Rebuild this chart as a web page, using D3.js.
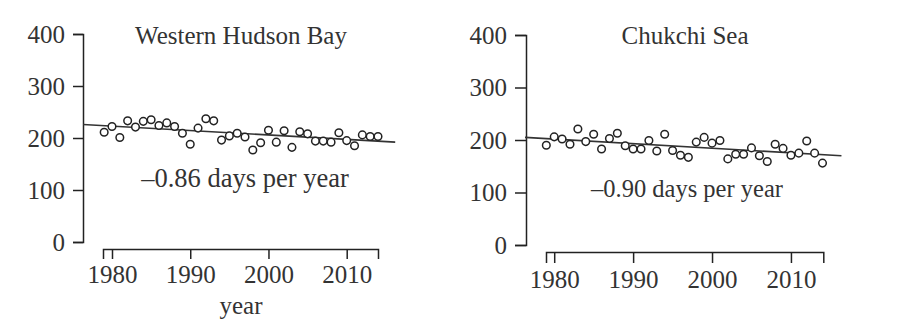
<!DOCTYPE html>
<html>
<head>
<meta charset="utf-8">
<script src="https://cdnjs.cloudflare.com/ajax/libs/d3/7.8.5/d3.min.js"></script>
<style>
  body { margin: 0; background: #fff; }
  svg text { font-family: "Liberation Serif", "DejaVu Serif", serif; fill: #333; }
  .axis path, .axis line { stroke: #222; stroke-width: 1.5; }
  .axis text { font-size: 25px; }
</style>
</head>
<body>
<div id="chart"></div>
<script>
// data
var years = [1979, 1980, 1981, 1982, 1983, 1984, 1985, 1986, 1987, 1988,
  1989, 1990, 1991, 1992, 1993, 1994, 1995, 1996, 1997, 1998,
  1999, 2000, 2001, 2002, 2003, 2004, 2005, 2006, 2007, 2008,
  2009, 2010, 2011, 2012, 2013, 2014];

var hudsonDays = [211, 222, 201, 233, 221, 232, 235, 224, 229, 222,
  209, 188, 219, 237, 233, 196, 204, 209, 202, 177,
  191, 215, 192, 214, 182, 212, 208, 194, 194, 192,
  210, 195, 185, 206, 203, 203];

var chukchiDays = [190, 206, 202, 192, 221, 197, 211, 183, 203, 213,
  189, 183, 183, 199, 179, 211, 180, 171, 167, 196,
  205, 194, 199, 164, 173, 173, 185, 170, 159, 192,
  184, 171, 175, 198, 175, 156];

// trend line ends (year, days)
var trendYearsHudson = [1976.3, 2016.2];
var trendHudson = [226, 192];
var trendYearsChukchi = [1976.3, 2016.4];
var trendChukchi = [205, 170];

var yTicks = [0, 100, 200, 300, 400];
var xTicks = [1980, 1990, 2000, 2010];

var svg = d3.select("#chart")
  .append("svg")
  .attr("width", 900)
  .attr("height", 326);

function drawPanel(p) {
  var xScale = d3.scaleLinear().domain(p.xDomain).range(p.xRange);
  var yScale = d3.scaleLinear().domain([0, 400]).range(p.yRange);

  var leftAxis = d3.axisLeft(yScale)
    .tickValues(yTicks)
    .tickSizeOuter(0)
    .tickSize(p.yTickSize)
    .tickPadding(8);

  var bottomAxis = d3.axisBottom(xScale)
    .tickValues(xTicks)
    .tickFormat(d3.format("d"))
    .tickSizeOuter(0)
    .tickSize(p.xTickSize)
    .tickPadding(p.xPad);

  svg.append("g")
    .attr("class", "axis")
    .attr("transform", `translate(${p.yAxisX}, 0)`)
    .call(leftAxis);

  svg.append("g")
    .attr("class", "axis")
    .attr("transform", `translate(0, ${p.xAxisY})`)
    .call(bottomAxis);

  svg.selectAll(".axis .domain").attr("fill", "none");

  // regression line
  var line = d3.line()
    .x(d => xScale(d[0]))
    .y(d => yScale(d[1]));
  svg.append("path")
    .datum(d3.zip(p.trendYears, p.trend))
    .attr("d", line)
    .attr("fill", "none")
    .attr("stroke", "#333")
    .attr("stroke-width", 1.6);

  svg.append("g")
    .selectAll("circle")
    .data(d3.zip(years, p.days))
    .join("circle")
    .attr("cx", d => xScale(d[0]))
    .attr("cy", d => yScale(d[1]))
    .attr("r", 3.8)
    .attr("fill", "#fff")
    .attr("stroke", "#222")
    .attr("stroke-width", 1.5);

  svg.append("text")
    .attr("x", p.titleX)
    .attr("y", 44)
    .attr("text-anchor", "middle")
    .style("font-size", "25px")
    .text(p.title);

  svg.append("text")
    .attr("x", p.noteX)
    .attr("y", p.noteY)
    .attr("text-anchor", "middle")
    .style("font-size", p.noteSize)
    .text(p.note);
}

drawPanel({
  days: hudsonDays,
  trendYears: trendYearsHudson,
  trend: trendHudson,
  xDomain: [1978.85, 2014],
  xRange: [103, 378],
  yRange: [242, 34],
  yAxisX: 83,
  xAxisY: 249,
  yTickSize: 10,
  xTickSize: 10,
  xPad: 6,
  title: "Western Hudson Bay",
  titleX: 241,
  note: "\u20130.86 days per year",
  noteX: 245,
  noteY: 187,
  noteSize: "26.5px"
});

drawPanel({
  days: chukchiDays,
  trendYears: trendYearsChukchi,
  trend: trendChukchi,
  xDomain: [1978.96, 2014.1],
  xRange: [546, 823.3],
  yRange: [245, 35],
  yAxisX: 526,
  xAxisY: 252,
  yTickSize: 11,
  xTickSize: 11,
  xPad: 7,
  title: "Chukchi Sea",
  titleX: 685,
  note: "\u20130.90 days per year",
  noteX: 687,
  noteY: 197,
  noteSize: "24.5px"
});

// x axis title, left panel only
svg.append("text")
  .attr("x", 241)
  .attr("y", 314)
  .attr("text-anchor", "middle")
  .style("font-size", "25px")
  .text("year");
</script>
</body>
</html>
